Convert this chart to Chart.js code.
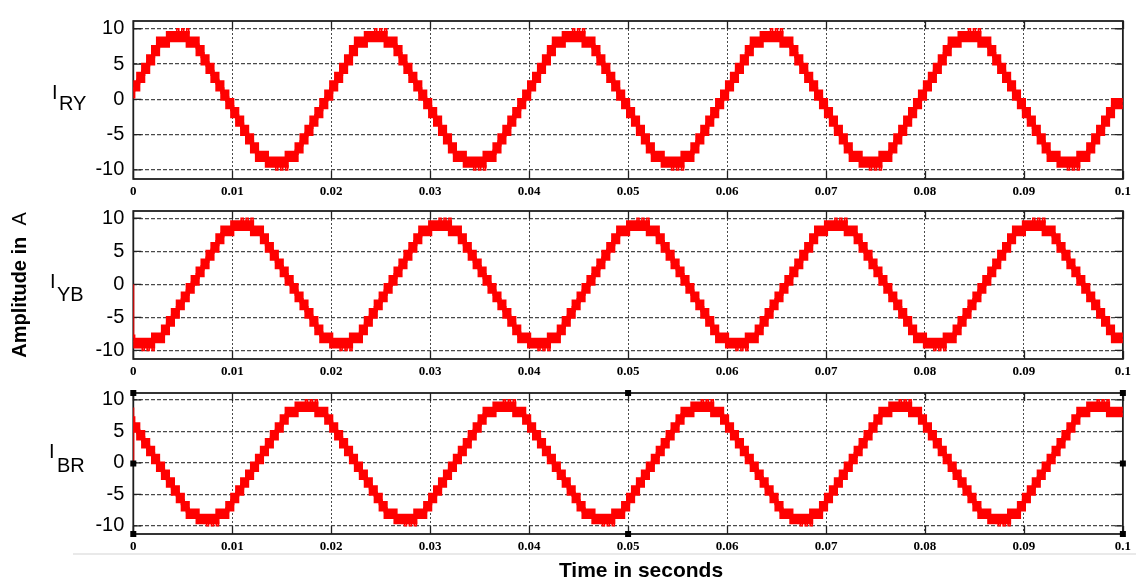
<!DOCTYPE html>
<html><head><meta charset="utf-8">
<script src="https://cdn.jsdelivr.net/npm/chart.js@4.4.1/dist/chart.umd.min.js"></script>
<style>
html,body{margin:0;padding:0;background:#fff;}
#wrap{position:relative;width:1136px;height:581px;overflow:hidden;background:#fff;}
canvas{position:absolute;left:0;}
</style></head><body>
<div id="wrap">
<canvas id="c1" width="1136" height="200" style="top:0px"></canvas>
<canvas id="c2" width="1136" height="190" style="top:190px"></canvas>
<canvas id="c3" width="1136" height="209" style="top:372px"></canvas>
</div>
<script>
// ---------- data ----------
const timeStep = 0.0005;            // seconds between staircase samples
const timeMin = 0, timeMax = 0.1, timeTickStep = 0.01;
const ampMin = -11.3, ampMax = 11.1, ampTickStep = 5;

// I_RY staircase levels (A), one value per 0.5 ms
const iRY = [
 0.6,1.9,3.1,4.4,5.6,6.9,8.1,8.1,8.9,8.9,8.9,8.9,8.1,8.1,6.9,5.6,4.4,3.1,1.9,0.6,-0.6,-1.9,-3.1,-4.4,-5.6,-6.9,-8.1,-8.1,-8.9,-8.9,-8.9,-8.9,-8.1,-8.1,-6.9,-5.6,-4.4,-3.1,-1.9,-0.6,
 0.6,1.9,3.1,4.4,5.6,6.9,8.1,8.1,8.9,8.9,8.9,8.9,8.1,8.1,6.9,5.6,4.4,3.1,1.9,0.6,-0.6,-1.9,-3.1,-4.4,-5.6,-6.9,-8.1,-8.1,-8.9,-8.9,-8.9,-8.9,-8.1,-8.1,-6.9,-5.6,-4.4,-3.1,-1.9,-0.6,
 0.6,1.9,3.1,4.4,5.6,6.9,8.1,8.1,8.9,8.9,8.9,8.9,8.1,8.1,6.9,5.6,4.4,3.1,1.9,0.6,-0.6,-1.9,-3.1,-4.4,-5.6,-6.9,-8.1,-8.1,-8.9,-8.9,-8.9,-8.9,-8.1,-8.1,-6.9,-5.6,-4.4,-3.1,-1.9,-0.6,
 0.6,1.9,3.1,4.4,5.6,6.9,8.1,8.1,8.9,8.9,8.9,8.9,8.1,8.1,6.9,5.6,4.4,3.1,1.9,0.6,-0.6,-1.9,-3.1,-4.4,-5.6,-6.9,-8.1,-8.1,-8.9,-8.9,-8.9,-8.9,-8.1,-8.1,-6.9,-5.6,-4.4,-3.1,-1.9,-0.6,
 0.6,1.9,3.1,4.4,5.6,6.9,8.1,8.1,8.9,8.9,8.9,8.9,8.1,8.1,6.9,5.6,4.4,3.1,1.9,0.6,-0.6,-1.9,-3.1,-4.4,-5.6,-6.9,-8.1,-8.1,-8.9,-8.9,-8.9,-8.9,-8.1,-8.1,-6.9,-5.6,-4.4,-3.1,-1.9,-0.6
];
// I_YB staircase levels (A)
const iYB = [
 -8.1,-8.9,-8.9,-8.9,-8.9,-8.1,-8.1,-6.9,-5.6,-4.4,-3.1,-1.9,-0.6,0.6,1.9,3.1,4.4,5.6,6.9,8.1,8.1,8.9,8.9,8.9,8.9,8.1,8.1,6.9,5.6,4.4,3.1,1.9,0.6,-0.6,-1.9,-3.1,-4.4,-5.6,-6.9,-8.1,
 -8.1,-8.9,-8.9,-8.9,-8.9,-8.1,-8.1,-6.9,-5.6,-4.4,-3.1,-1.9,-0.6,0.6,1.9,3.1,4.4,5.6,6.9,8.1,8.1,8.9,8.9,8.9,8.9,8.1,8.1,6.9,5.6,4.4,3.1,1.9,0.6,-0.6,-1.9,-3.1,-4.4,-5.6,-6.9,-8.1,
 -8.1,-8.9,-8.9,-8.9,-8.9,-8.1,-8.1,-6.9,-5.6,-4.4,-3.1,-1.9,-0.6,0.6,1.9,3.1,4.4,5.6,6.9,8.1,8.1,8.9,8.9,8.9,8.9,8.1,8.1,6.9,5.6,4.4,3.1,1.9,0.6,-0.6,-1.9,-3.1,-4.4,-5.6,-6.9,-8.1,
 -8.1,-8.9,-8.9,-8.9,-8.9,-8.1,-8.1,-6.9,-5.6,-4.4,-3.1,-1.9,-0.6,0.6,1.9,3.1,4.4,5.6,6.9,8.1,8.1,8.9,8.9,8.9,8.9,8.1,8.1,6.9,5.6,4.4,3.1,1.9,0.6,-0.6,-1.9,-3.1,-4.4,-5.6,-6.9,-8.1,
 -8.1,-8.9,-8.9,-8.9,-8.9,-8.1,-8.1,-6.9,-5.6,-4.4,-3.1,-1.9,-0.6,0.6,1.9,3.1,4.4,5.6,6.9,8.1,8.1,8.9,8.9,8.9,8.9,8.1,8.1,6.9,5.6,4.4,3.1,1.9,0.6,-0.6,-1.9,-3.1,-4.4,-5.6,-6.9,-8.1
];
// I_BR staircase levels (A)
const iBR = [
 6.9,5.6,4.4,3.1,1.9,0.6,-0.6,-1.9,-3.1,-4.4,-5.6,-6.9,-8.1,-8.1,-8.9,-8.9,-8.9,-8.9,-8.1,-8.1,-6.9,-5.6,-4.4,-3.1,-1.9,-0.6,0.6,1.9,3.1,4.4,5.6,6.9,8.1,8.1,8.9,8.9,8.9,8.9,8.1,8.1,
 6.9,5.6,4.4,3.1,1.9,0.6,-0.6,-1.9,-3.1,-4.4,-5.6,-6.9,-8.1,-8.1,-8.9,-8.9,-8.9,-8.9,-8.1,-8.1,-6.9,-5.6,-4.4,-3.1,-1.9,-0.6,0.6,1.9,3.1,4.4,5.6,6.9,8.1,8.1,8.9,8.9,8.9,8.9,8.1,8.1,
 6.9,5.6,4.4,3.1,1.9,0.6,-0.6,-1.9,-3.1,-4.4,-5.6,-6.9,-8.1,-8.1,-8.9,-8.9,-8.9,-8.9,-8.1,-8.1,-6.9,-5.6,-4.4,-3.1,-1.9,-0.6,0.6,1.9,3.1,4.4,5.6,6.9,8.1,8.1,8.9,8.9,8.9,8.9,8.1,8.1,
 6.9,5.6,4.4,3.1,1.9,0.6,-0.6,-1.9,-3.1,-4.4,-5.6,-6.9,-8.1,-8.1,-8.9,-8.9,-8.9,-8.9,-8.1,-8.1,-6.9,-5.6,-4.4,-3.1,-1.9,-0.6,0.6,1.9,3.1,4.4,5.6,6.9,8.1,8.1,8.9,8.9,8.9,8.9,8.1,8.1,
 6.9,5.6,4.4,3.1,1.9,0.6,-0.6,-1.9,-3.1,-4.4,-5.6,-6.9,-8.1,-8.1,-8.9,-8.9,-8.9,-8.9,-8.1,-8.1,-6.9,-5.6,-4.4,-3.1,-1.9,-0.6,0.6,1.9,3.1,4.4,5.6,6.9,8.1,8.1,8.9,8.9,8.9,8.9,8.1,8.1
];
// times (s) of the chattering peaks, and their levels
const ryPeaksUp   = [0.005, 0.025, 0.045, 0.065, 0.085];
const ryPeaksDown = [0.015, 0.035, 0.055, 0.075, 0.095];
const ybPeaksUp   = [0.0115, 0.0315, 0.0515, 0.0715, 0.0915];
const ybPeaksDown = [0.0015, 0.0215, 0.0415, 0.0615, 0.0815];
const brPeaksUp   = [0.018, 0.038, 0.058, 0.078, 0.098];
const brPeaksDown = [0.008, 0.028, 0.048, 0.068, 0.088];
const spikeTop = 10, spikeBase = 9.3;
// start-up jump at t = 0 (from 0 A to the first level)
const startRY = 0, startYB = -8.1, startBR = 8.8;

// ---------- styling ----------
const RED = 'rgb(255,0,0)';
const bandHalf = 0.5;                       // half height of each chattering block
const bandEdge = 4.2;                       // stroke width of the block edges
const spikeOffsets = [-0.0005, 0, 0.0005];
const spikeHalfWidth = 0.0001;

function stepSeries(values, offset) {
  const pts = values.map((v, k) => ({x: timeMin + k * timeStep, y: v + offset}));
  pts.push({x: timeMin + values.length * timeStep, y: values[values.length - 1] + offset});
  return pts;
}
function spikeSeries(up, down) {
  const pts = [];
  const add = (c, s) => {
    for (const off of spikeOffsets) {
      const a = c + off - spikeHalfWidth, b = c + off + spikeHalfWidth;
      pts.push({x: a, y: s * spikeBase}, {x: a, y: s * spikeTop}, {x: b, y: s * spikeTop}, {x: b, y: s * spikeBase}, {x: b, y: null});
    }
  };
  up.forEach(c => add(c, 1));
  down.forEach(c => add(c, -1));
  return pts;
}

const framePlugin = {
  id: 'frame',
  beforeDatasetsDraw(chart) {
    const {ctx, chartArea: {left, right, top, bottom}, scales: {x, y}} = chart;
    ctx.save();
    ctx.strokeStyle = '#222';
    ctx.lineWidth = 1.3;
    ctx.beginPath();
    x.ticks.forEach(t => {
      const px = Math.round(x.getPixelForValue(t.value)) + 0.5;
      ctx.moveTo(px, top); ctx.lineTo(px, top + 8);
      ctx.moveTo(px, bottom); ctx.lineTo(px, bottom - 8);
    });
    y.ticks.forEach(t => {
      const py = y.getPixelForValue(t.value);
      ctx.moveTo(left, py); ctx.lineTo(left + 8, py);
      ctx.moveTo(right, py); ctx.lineTo(right - 8, py);
    });
    ctx.stroke();
    ctx.lineWidth = 1.8;
    ctx.strokeStyle = '#1e1e1e';
    ctx.strokeRect(left, top, right - left, bottom - top);
    ctx.restore();
  }
};

function phaseLabel(ctx, canvasTop, ix, iy, sub, sx, sy) {
  ctx.save();
  ctx.fillStyle = '#000';
  ctx.font = '20px "Liberation Sans", Arial, sans-serif';
  ctx.textAlign = 'left';
  ctx.textBaseline = 'alphabetic';
  ctx.fillText('I', ix, iy - canvasTop);
  ctx.fillText(sub, sx, sy - canvasTop);
  ctx.restore();
}

function makePanel(id, canvasTop, values, up, down, startLevel, pad, xAxisH, decor) {
  return new Chart(document.getElementById(id), {
    type: 'line',
    data: {datasets: [
      {data: stepSeries(values, bandHalf), stepped: 'after', borderColor: RED, backgroundColor: RED,
       borderWidth: bandEdge, borderJoinStyle: 'miter', pointRadius: 0, fill: '+1'},
      {data: stepSeries(values, -bandHalf), stepped: 'after', borderColor: RED,
       borderWidth: bandEdge, borderJoinStyle: 'miter', pointRadius: 0, fill: false},
      {data: spikeSeries(up, down), borderColor: RED, borderWidth: 1.6, pointRadius: 0, fill: false, spanGaps: false},
      {data: [{x: timeMin, y: 0}, {x: timeMin, y: startLevel}], borderColor: RED, borderWidth: 2, pointRadius: 0, fill: false}
    ]},
    options: {
      responsive: false, animation: false, events: [],
      layout: {autoPadding: false, padding: pad},
      plugins: {legend: {display: false}, tooltip: {enabled: false}},
      scales: {
        x: {type: 'linear', min: timeMin, max: timeMax,
            afterFit: s => { s.height = xAxisH; },
            ticks: {stepSize: timeTickStep, autoSkip: false, maxRotation: 0, minRotation: 0, padding: 5, color: '#000',
                    font: {family: '"Liberation Serif", "Times New Roman", serif', size: 13, weight: 'bold'},
                    callback: v => String(+Number(v).toFixed(2))},
            grid: {color: '#4a4a4a', lineWidth: 1, drawTicks: false},
            border: {display: false, dash: [2, 2]}},
        y: {type: 'linear', min: ampMin, max: ampMax,
            afterFit: s => { s.width = 133.3; },
            ticks: {stepSize: ampTickStep, includeBounds: false, padding: 9, color: '#000',
                    font: {family: '"Liberation Sans", Arial, sans-serif', size: 20}},
            grid: {color: '#4a4a4a', lineWidth: 1.2, drawTicks: false},
            border: {display: false, dash: [4, 2]}}
      }
    },
    plugins: [framePlugin, {id: 'decor' + id, afterDraw(chart) { decor(chart.ctx, chart, canvasTop); }}]
  });
}

makePanel('c1', 0, iRY, ryPeaksUp, ryPeaksDown, startRY,
  {top: 10.7, right: 8, left: 0, bottom: 0}, 18,
  (ctx, chart, T) => { phaseLabel(ctx, T, 52, 99, 'RY', 59, 110); });

makePanel('c2', 190, iYB, ybPeaksUp, ybPeaksDown, startYB,
  {top: 10.7, right: 8, left: 0, bottom: 0}, 17.3,
  (ctx, chart, T) => {
    phaseLabel(ctx, T, 50, 288, 'YB', 57, 301);
    ctx.save();
    ctx.fillStyle = '#000';
    ctx.translate(20, 285 - T);
    ctx.rotate(-Math.PI / 2);
    ctx.textBaseline = 'middle';
    ctx.textAlign = 'left';
    const boldFont = 'bold 20px "Liberation Sans", Arial, sans-serif';
    const normFont = '20px "Liberation Sans", Arial, sans-serif';
    const p1 = 'Amplitude in  ', p2 = 'A';
    ctx.font = boldFont; const w1 = ctx.measureText(p1).width;
    ctx.font = normFont; const w2 = ctx.measureText(p2).width;
    const start = -(w1 + w2) / 2;
    ctx.font = boldFont; ctx.fillText(p1, start, 0);
    ctx.font = normFont; ctx.fillText(p2, start + w1, 0);
    ctx.restore();
  });

makePanel('c3', 372, iBR, brPeaksUp, brPeaksDown, startBR,
  {top: 10.7, right: 8, left: 0, bottom: 29}, 18,
  (ctx, chart, T) => {
    phaseLabel(ctx, T, 49, 458, 'BR', 57, 472);
    const {left, right, top, bottom} = chart.chartArea;
    const mx = (left + right) / 2, my = (top + bottom) / 2;
    ctx.save();
    ctx.fillStyle = '#000';
    [[left, top], [left, my], [left, bottom], [mx, top], [mx, bottom], [right, top], [right, my], [right, bottom]]
      .forEach(([px, py]) => ctx.fillRect(px - 3, py - 3, 6, 6));
    ctx.fillStyle = '#e9e9e9';
    ctx.fillRect(73, 553 - T, 1136 - 73, 2);
    ctx.fillStyle = '#000';
    ctx.font = 'bold 21px "Liberation Sans", Arial, sans-serif';
    ctx.textAlign = 'center';
    ctx.textBaseline = 'alphabetic';
    ctx.fillText('Time in seconds', 641, 577 - T);
    ctx.restore();
  });
</script>
</body></html>
